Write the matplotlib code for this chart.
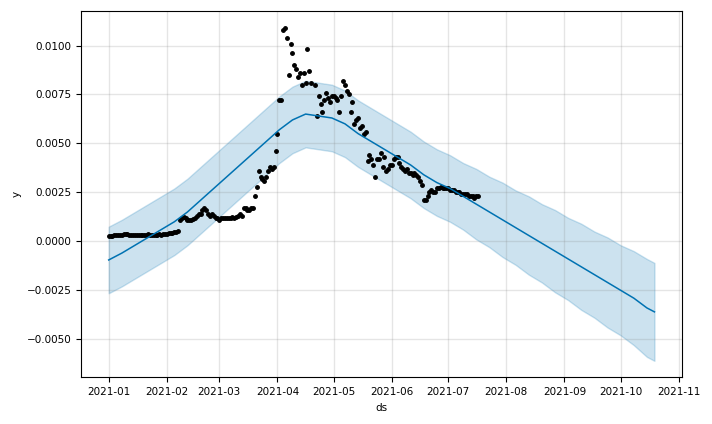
import pandas as pd
import matplotlib
matplotlib.use("Agg")
import matplotlib.pyplot as plt

START = pd.Timestamp("2021-01-01")

# observed points: day offset from 2021-01-01, value
obs_days = list(range(0, 38)) + list(range(38, 78)) + [
    78, 79, 80, 81, 82, 83, 84, 85, 86, 87, 88, 89, 90, 91, 92, 93, 94, 95, 96, 97,
    98, 99, 100, 101, 102, 103, 104, 105, 106, 107, 108, 110, 111, 112, 113, 114, 115,
    116, 117, 118, 119, 120, 121, 122, 123, 124, 125, 126, 127, 128, 129, 130, 131,
    132, 133, 134, 135, 136, 137, 138, 139, 140, 141, 142, 143, 144, 145, 146, 147,
    148, 149, 150, 151, 152, 153, 154, 155, 156, 157, 158, 159, 160, 161, 162, 163,
    164, 165, 166, 167, 168, 169, 170, 171, 172, 173, 174, 175, 176, 177, 178, 179,
    180, 181, 182, 183, 184, 185, 186, 187, 188, 189, 190, 191, 192, 193, 194, 195,
    196, 197]
obs_vals = [
    0.00025, 0.00027, 0.00028, 0.0003, 0.0003, 0.0003, 0.00031, 0.00032, 0.0004,
    0.00038, 0.00036, 0.00035, 0.00035, 0.00035, 0.00035, 0.00035, 0.00035, 0.00035,
    0.00035, 0.00035, 0.00035, 0.00036, 0.00035, 0.00034, 0.00035, 0.00035, 0.00035,
    0.00036, 0.00035, 0.00037, 0.0004, 0.0004, 0.00042, 0.00045, 0.00045, 0.00047,
    0.0005, 0.00052,
    0.0011, 0.0012, 0.00125, 0.0012, 0.0011, 0.0011, 0.0011, 0.00115, 0.0012, 0.0013,
    0.0014, 0.0014, 0.0016, 0.0017, 0.0016, 0.0014, 0.0013, 0.0014, 0.0013, 0.0012,
    0.0012, 0.0011, 0.0012, 0.0012, 0.0012, 0.0012, 0.0012, 0.0012, 0.00125, 0.0012,
    0.00125, 0.0013, 0.0014, 0.0013, 0.0017, 0.0017, 0.0016, 0.0016, 0.0017, 0.0017,
    0.0023, 0.0028, 0.0036, 0.0033, 0.0032, 0.0031, 0.0033, 0.0036, 0.0038, 0.0037,
    0.0038, 0.0046, 0.0055, 0.0072, 0.0072, 0.0108, 0.0109, 0.0104, 0.0085, 0.0101,
    0.0096, 0.0090, 0.0088, 0.0084, 0.0086, 0.0080, 0.0086, 0.0081, 0.0098, 0.0087,
    0.0081, 0.0080, 0.0064, 0.0074, 0.0070, 0.0066, 0.0072, 0.0076, 0.0073, 0.0071,
    0.0074, 0.0074, 0.0073, 0.0072, 0.0066, 0.0074, 0.0082, 0.0080, 0.0077, 0.0075,
    0.0066, 0.0071, 0.0060, 0.0062, 0.0063, 0.0058, 0.0059, 0.0055, 0.0056, 0.0041,
    0.0044, 0.0042, 0.0039, 0.0033, 0.0042, 0.0042, 0.0045, 0.0038, 0.0043, 0.0036,
    0.0037, 0.0039, 0.0039, 0.0042, 0.0043, 0.0043, 0.0040, 0.0038, 0.0037, 0.0036,
    0.0037, 0.0035, 0.0035, 0.0034, 0.0035, 0.0034, 0.0033, 0.0031, 0.0029, 0.0021,
    0.0021, 0.0023, 0.0025, 0.0026, 0.0025, 0.0025, 0.0027, 0.0027, 0.0028, 0.0027,
    0.0027, 0.0027, 0.0027, 0.0026, 0.0026, 0.0026, 0.0025, 0.0025, 0.0025, 0.0024,
    0.0024, 0.0024, 0.0024, 0.0023, 0.0023, 0.0023, 0.0022, 0.0023, 0.0023]

# forecast: day offset, yhat, half width of uncertainty band
fc_days = [0, 7, 14, 21, 28, 35, 42, 49, 56, 63, 70, 77, 84, 91, 98, 105, 112, 119,
           126, 133, 140, 147, 154, 161, 168, 175, 182, 189, 196, 203, 210, 217, 224,
           231, 238, 245, 252, 259, 266, 273, 280, 287, 291]
fc_yhat = [-0.00095, -0.0006, -0.0002, 0.0002, 0.0006, 0.0010, 0.0015, 0.0021,
           0.0027, 0.0033, 0.0039, 0.0045, 0.0051, 0.0057, 0.0062, 0.0065, 0.0064,
           0.0063, 0.0060, 0.0055, 0.0051, 0.0047, 0.0043, 0.0039, 0.0034, 0.0030,
           0.0027, 0.0023, 0.0019, 0.0015, 0.0011, 0.0007, 0.0003, -0.0001, -0.0005,
           -0.0009, -0.0013, -0.0017, -0.0021, -0.0025, -0.0029, -0.0034, -0.0036]
fc_half = [0.0017, 0.0017, 0.0017, 0.0017, 0.0017, 0.0017, 0.0017, 0.0017, 0.0017,
           0.0017, 0.0017, 0.0017, 0.0017, 0.0017, 0.0017, 0.0017, 0.0017, 0.0017,
           0.0017, 0.0017, 0.0017, 0.0017, 0.0017, 0.0017, 0.0017, 0.0017, 0.0017,
           0.0017, 0.0018, 0.0018, 0.0019, 0.0019, 0.0020, 0.0020, 0.0021, 0.0021,
           0.0022, 0.0022, 0.0023, 0.0023, 0.0024, 0.0025, 0.0025]

obs_ds = [START + pd.Timedelta(days=d) for d in obs_days]
fc_ds = [START + pd.Timedelta(days=d) for d in fc_days]
lower = [y - h for y, h in zip(fc_yhat, fc_half)]
upper = [y + h for y, h in zip(fc_yhat, fc_half)]

plt.rcParams["font.size"] = 7.5
fig = plt.figure(figsize=(7.12, 4.24), dpi=100, facecolor="w")
ax = fig.add_subplot(111)
ax.plot(obs_ds, obs_vals, "k.", markersize=5)
ax.plot(fc_ds, fc_yhat, ls="-", c="#0072B2", lw=1.1)
ax.fill_between(fc_ds, lower, upper, color="#0072B2", alpha=0.2)
ax.grid(True, which="major", c="gray", ls="-", lw=1, alpha=0.2)
ax.set_xlabel("ds")
ax.set_ylabel("y")
fig.tight_layout()
fig.savefig("out.png", dpi=100)
